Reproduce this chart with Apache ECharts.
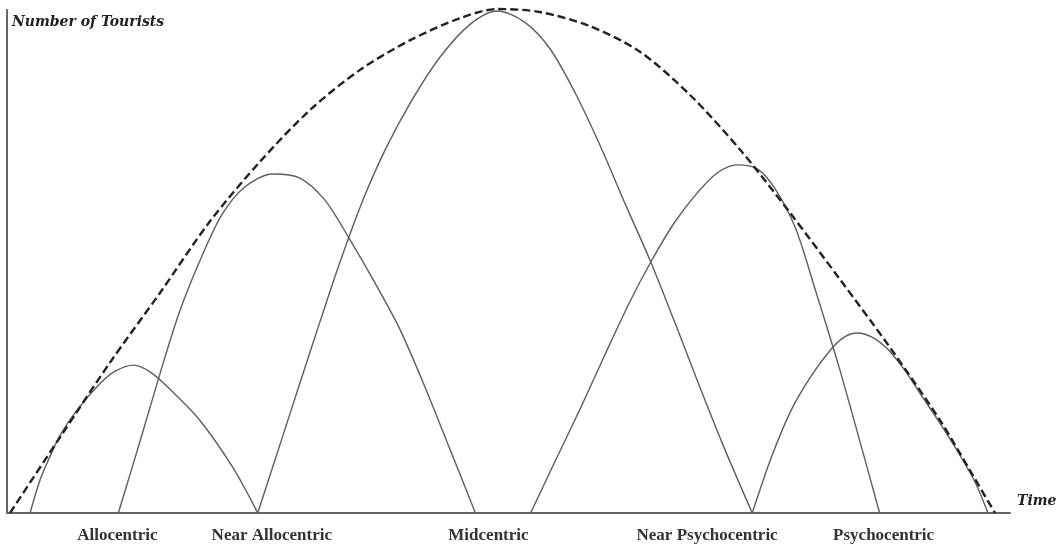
<!DOCTYPE html>
<html>
<head>
<meta charset="utf-8">
<title>Tourist types over time</title>
<script src="https://cdn.jsdelivr.net/npm/echarts@6/dist/echarts.min.js"></script>
<style>
  html, body { margin: 0; padding: 0; background: #fff; }
  #chart { width: 1063px; height: 548px; }
</style>
</head>
<body>
<div id="chart"></div>
<script>
const groupNames = ['Allocentric', 'Near Allocentric', 'Midcentric', 'Near Psychocentric', 'Psychocentric']
const groupLabelAt = [11.0, 26.4, 48.0, 69.8, 87.4]

const alloTime = [2.3, 3.3, 4.3, 5.3, 7.0, 9.3, 10.8, 12.6, 14.3, 16.3, 19.2, 22.5, 25.0]
const alloTourists = [0, 6.6, 11.3, 15.5, 20.5, 25.8, 28.2, 29.4, 28.0, 24.5, 18.5, 9.1, 0]

const nearAlloTime = [11.1, 13.3, 15.3, 17.2, 19.2, 21.4, 23.7, 26.5, 29.2, 31.7, 34.2, 36.7, 39.2, 41.7, 44.2, 46.7]
const nearAlloTourists = [0, 14.5, 28.0, 40.0, 50.0, 59.2, 64.8, 67.4, 66.6, 62.2, 54.3, 45.7, 36.4, 24.9, 12.5, 0]

const midTime = [25.0, 27.2, 29.2, 31.2, 33.2, 35.4, 37.7, 40.2, 43.2, 46.2, 48.9, 51.6, 54.1, 56.6, 59.1, 61.6, 64.1, 66.6, 69.1, 71.6, 74.3]
const midTourists = [0, 13.5, 25.8, 38.0, 49.9, 61.8, 72.2, 81.5, 90.7, 97.2, 99.8, 97.6, 92.4, 83.7, 73.2, 61.6, 50.3, 37.8, 24.9, 12.5, 0]

const nearPsychoTime = [52.2, 54.6, 57.1, 59.6, 62.1, 64.3, 66.6, 68.8, 70.8, 72.8, 74.8, 76.6, 78.6, 80.6, 82.9, 85.0, 87.0]
const nearPsychoTourists = [0, 10.1, 20.5, 31.4, 42.0, 50.3, 57.9, 63.6, 67.6, 69.2, 68.4, 64.4, 56.7, 44.3, 29.4, 14.5, 0]

const psychoTime = [74.3, 76.1, 78.1, 80.1, 82.1, 83.5, 84.8, 86.2, 87.7, 89.5, 91.0, 93.0, 95.0, 96.5, 97.8]
const psychoTourists = [0, 10.5, 20.1, 27.0, 32.4, 35.0, 35.8, 35.0, 32.8, 28.4, 23.9, 17.9, 11.5, 6.2, 0]

const totalTime = [0.3, 5.3, 10.3, 15.3, 20.2, 25.2, 30.2, 35.2, 40.2, 45.2, 48.9, 53.1, 58.1, 63.1, 68.1, 73.1, 78.1, 83.1, 88.0, 93.0, 96.0, 98.5]
const totalTourists = [0, 15.1, 30.0, 43.9, 57.9, 69.8, 80.1, 88.1, 94.0, 98.4, 100.2, 99.6, 96.8, 91.7, 83.1, 72.2, 59.6, 46.3, 33.0, 18.5, 8.5, 0]

function pairs (xs, ys) {
  return xs.map((x, i) => [x, ys[i]])
}

function arch (name, xs, ys) {
  return {
    name: name,
    type: 'line',
    data: pairs(xs, ys),
    smooth: 0.3,
    showSymbol: false,
    clip: false,
    lineStyle: { color: '#5e5e5e', width: 1.4 }
  }
}

const chart = echarts.init(document.getElementById('chart'))
const option = {
  animation: false,
  backgroundColor: '#fff',
  grid: { left: 7, right: 53, top: 10, bottom: 35 },
  xAxis: {
    type: 'value',
    min: 0,
    max: 100,
    name: 'Time',
    nameLocation: 'end',
    nameGap: 7,
    nameTextStyle: {
      fontFamily: 'DejaVu Serif',
      fontStyle: 'italic',
      fontWeight: 'bold',
      fontSize: 14,
      color: '#222',
      align: 'left',
      verticalAlign: 'bottom',
      padding: [0, 0, 5, 0]
    },
    axisLine: { lineStyle: { color: '#666', width: 2 } },
    axisTick: { show: false },
    splitLine: { show: false },
    axisLabel: {
      customValues: groupLabelAt,
      formatter: function (v) {
        return groupNames[groupLabelAt.indexOf(v)]
      },
      margin: 14,
      fontFamily: 'Liberation Serif',
      fontWeight: 'bold',
      fontSize: 17,
      color: '#333'
    }
  },
  yAxis: {
    type: 'value',
    min: 0,
    max: 100,
    name: 'Number of Tourists',
    nameLocation: 'end',
    nameGap: -5,
    nameTextStyle: {
      fontFamily: 'DejaVu Serif',
      fontStyle: 'italic',
      fontWeight: 'bold',
      fontSize: 14,
      color: '#222',
      align: 'left',
      verticalAlign: 'top',
      padding: [0, 0, 0, 5]
    },
    axisLine: { show: true, lineStyle: { color: '#666', width: 2 } },
    axisTick: { show: false },
    axisLabel: { show: false },
    splitLine: { show: false }
  },
  series: [
    arch('Allocentric', alloTime, alloTourists),
    arch('Near Allocentric', nearAlloTime, nearAlloTourists),
    arch('Midcentric', midTime, midTourists),
    arch('Near Psychocentric', nearPsychoTime, nearPsychoTourists),
    arch('Psychocentric', psychoTime, psychoTourists),
    {
      name: 'Total',
      type: 'line',
      data: pairs(totalTime, totalTourists),
      smooth: 0.3,
      showSymbol: false,
      clip: false,
      lineStyle: { color: '#222', width: 2.4, type: [8, 4] }
    }
  ]
}
chart.setOption(option)
</script>
</body>
</html>
